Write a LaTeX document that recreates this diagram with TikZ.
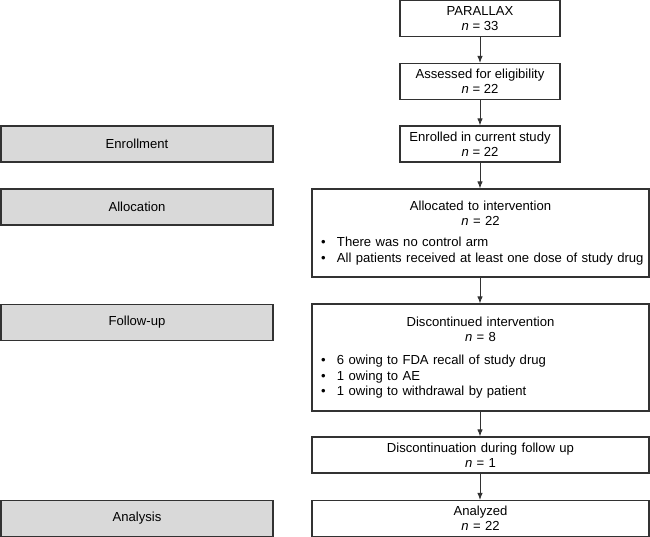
\documentclass[tikz,border=0pt]{standalone}
\usepackage{fontspec}
\setmainfont{Liberation Sans}
\usetikzlibrary{arrows.meta}
\definecolor{stagegray}{RGB}{217,217,217}
\definecolor{linegray}{RGB}{50,50,50}
\newcommand{\bulletitem}[1]{\makebox[21pt][l]{\hspace{5pt}\textbullet}#1}
\tikzset{
  flowbox/.style={draw=linegray, line width=1.2pt, fill=white, inner sep=4pt, align=center,
    font=\fontsize{13.1}{15.2}\selectfont},
  smallbox/.style={flowbox, minimum width=160pt, minimum height=36pt},
  widebox/.style={flowbox, minimum width=337pt, text width=329pt},
  stagebox/.style={flowbox, fill=stagegray, minimum width=272pt, minimum height=36pt},
  flowarrow/.style={draw=linegray, line width=0.9pt, -{Latex[length=7pt,width=5.5pt]}}
}
\begin{document}
\begin{tikzpicture}[x=1pt,y=-1pt]
\useasboundingbox (0,0) rectangle (650,537);
% stages on the left
\node[stagebox] (enrollment) at (137,144) {Enrollment};
\node[stagebox] (allocation) at (137,207) {Allocation};
\node[stagebox] (followup) at (137,322.5) {Follow-up};
\node[stagebox] (analysis) at (137,518.5) {Analysis};

% patient flow
\node[smallbox] (parallax) at (480,18.5) {PARALLAX\\ \textit{n} = 33};
\node[smallbox] (assessed) at (480,81.5) {Assessed for eligibility\\ \textit{n} = 22};
\node[smallbox] (enrolled) at (480,144) {Enrolled in current study\\ \textit{n} = 22};
\node[widebox, minimum height=88pt, align=left] (allocated) at (480.5,233) {%
  {\centering Allocated to intervention\\ \textit{n} = 22\par}\vspace{6pt}
  \bulletitem{There was no control arm}\\
  \bulletitem{All patients received at least one dose of study drug}};
\node[widebox, minimum height=107pt, align=left] (discont) at (480.5,357.5) {%
  {\centering Discontinued intervention\\ \textit{n} = 8\par}\vspace{8pt}
  \bulletitem{6 owing to FDA recall of study drug}\\
  \bulletitem{1 owing to AE}\\
  \bulletitem{1 owing to withdrawal by patient}};
\node[widebox, minimum height=36pt] (discfu) at (480.5,455) {Discontinuation during follow up\\ \textit{n} = 1};
\node[widebox, minimum height=36pt] (analyzed) at (480.5,518.5) {Analyzed\\ \textit{n} = 22};

\draw[flowarrow] (parallax) -- (assessed);
\draw[flowarrow] (assessed) -- (enrolled);
\draw[flowarrow] (enrolled.south) -- (enrolled.south |- allocated.north);
\draw[flowarrow] (allocated.south -| enrolled.south) -- (enrolled.south |- discont.north);
\draw[flowarrow] (discont.south -| enrolled.south) -- (enrolled.south |- discfu.north);
\draw[flowarrow] (discfu.south -| enrolled.south) -- (enrolled.south |- analyzed.north);
\end{tikzpicture}
\end{document}
